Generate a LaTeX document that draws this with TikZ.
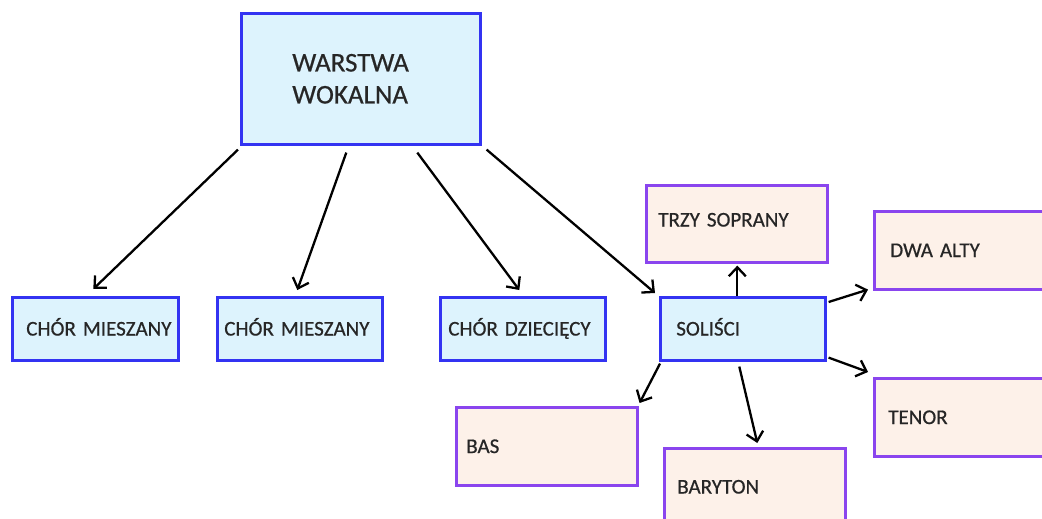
\documentclass[tikz,border=0pt]{standalone}
\usepackage{fontspec}
\setmainfont{Carlito}
\newfontfamily\lblfont[FakeBold=0.6]{Carlito}
\usetikzlibrary{arrows.meta}
\definecolor{bluefill}{HTML}{DDF3FD}
\definecolor{blueline}{HTML}{3333F2}
\definecolor{peachfill}{HTML}{FDF1E9}
\definecolor{purpleline}{HTML}{8A45EE}
\definecolor{txt}{HTML}{262626}
\tikzset{
  base/.style={draw, line width=2.6pt, anchor=north west, inner sep=0pt, text=txt, align=left},
  lbl/.style={text height=13.5pt, text depth=0pt, font=\lblfont\fontsize{21}{24}\selectfont},
  bluebox/.style={base, draw=blueline, fill=bluefill},
  peachbox/.style={base, draw=purpleline, fill=peachfill},
  sz/.style 2 args={text width=#1pt, minimum height=#2pt},
  arr/.style={line width=2.3pt, -{Straight Barb[length=9pt,width=17pt]}}
}
\begin{document}
\begin{tikzpicture}[x=1pt,y=-1pt]
\clip (0,0) rectangle (1042,519);
\fill[white] (0,0) rectangle (1042,519);
% main node
\node[bluebox, sz={239}{131}, font=\lblfont\fontsize{27}{32}\selectfont] (w) at (240,12)
  {\hspace*{51pt}WARSTWA\\\hspace*{51pt}WOKALNA};
% second level
\node[bluebox, lbl, sz={166}{63}] (c1) at (11,296) {\hspace*{14pt}CHÓR MIESZANY};
\node[bluebox, lbl, sz={165}{63}] (c2) at (216,296) {\hspace*{7pt}CHÓR MIESZANY};
\node[bluebox, lbl, sz={165}{63}] (c3) at (439,296) {\hspace*{8pt}CHÓR DZIECIĘCY};
\node[bluebox, lbl, sz={165}{63}] (s) at (659,296) {\hspace*{16pt}SOLIŚCI};
% soloists
\node[peachbox, lbl, sz={181}{77}] (t) at (645,184) {\hspace*{12pt}\raisebox{4pt}{TRZY SOPRANY}};
\node[peachbox, lbl, sz={190}{78}] (a) at (873,210) {\hspace*{16pt}DWA ALTY};
\node[peachbox, lbl, sz={190}{78}] (te) at (873,377) {\hspace*{14pt}TENOR};
\node[peachbox, lbl, sz={181}{78}] (b) at (455,406) {\hspace*{10pt}BAS};
\node[peachbox, lbl, sz={181}{77}] (br) at (663,447) {\hspace*{13pt}BARYTON};
% connectors
\draw[arr] ([shift={(-2,4)}]w.south west) -- ([shift={(-2,-7)}]c1.north);
\draw[arr] ([shift={(-14.5,7)}]w.south) -- ([shift={(-2.5,-6)}]c2.north);
\draw[arr] ([shift={(56.5,7)}]w.south) -- ([shift={(-3.5,-6)}]c3.north);
\draw[arr] ([shift={(5,4)}]w.south east) -- ([shift={(-4,-3)}]s.north west);
\draw[arr] ([shift={(-5.5,0)}]s.north) -- ([shift={(0.5,2)}]t.south);
\draw[arr] ([shift={(2,6)}]s.north east) -- ([shift={(-5,-1)}]a.south west);
\draw[arr] ([shift={(2,-4)}]s.south east) -- ([shift={(-5,-5)}]te.north west);
\draw[arr] ([shift={(1,2)}]s.south west) -- ([shift={(1,-3)}]b.north east);
\draw[arr] ([shift={(-3.5,5)}]s.south) -- ([shift={(2.5,-4)}]br.north);
\end{tikzpicture}
\end{document}
